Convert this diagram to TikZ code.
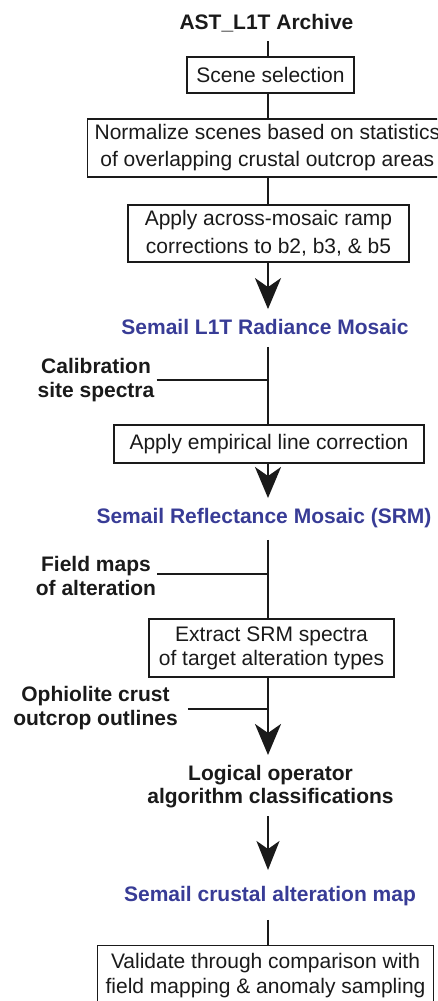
\documentclass[tikz,border=0pt]{standalone}
\usepackage{fontspec}
\setmainfont{Liberation Sans}
\usetikzlibrary{arrows.meta}

\definecolor{ink}{RGB}{26,26,26}
\definecolor{prodblue}{RGB}{56,60,150}

\tikzset{
  procbox/.style={draw=ink, line width=1.2pt, fill=white, text=ink,
    align=center, inner xsep=4pt, inner ysep=0pt,
    font=\fontsize{21}{26}\selectfont},
  srclabel/.style={font=\bfseries\fontsize{21}{24.5}\selectfont, text=ink,
    align=center, inner sep=0pt},
  product/.style={font=\bfseries\fontsize{21}{24}\selectfont, text=prodblue,
    inner sep=0pt},
  flow/.style={draw=ink, line width=2.6pt},
  flowarrow/.style={flow, -{Stealth[length=31pt,width=26pt,inset=9pt]}},
  feed/.style={draw=ink, line width=2.2pt},
}

\begin{document}
\begin{tikzpicture}[x=1pt, y=-1pt]
  \useasboundingbox (0,0) rectangle (437,1001);
  \clip (0,0) rectangle (437,1001);

  % main spine of the workflow
  \coordinate (spine) at (268,0);

  % inputs, steps and products
  \node[srclabel] (archive) at (266.5,23) {AST\_L1T Archive};
  \node[procbox, minimum width=167pt, minimum height=36pt] (select) at (270.5,75) {Scene selection};
  \node[procbox, anchor=west, inner xsep=7pt, minimum height=58pt,
        font=\fontsize{21}{27}\selectfont] (normalize) at (87,148)
        {Normalize scenes based on statistics\\of overlapping crustal outcrop areas};
  \node[procbox, minimum width=281pt, minimum height=57pt,
        font=\fontsize{21}{28}\selectfont] (ramp) at (268.5,233.5)
        {Apply across-mosaic ramp\\corrections to b2, b3, \& b5};
  \node[product] (radiance) at (265,327) {Semail L1T Radiance Mosaic};
  \node[srclabel] (calib) at (96,380) {Calibration\\site spectra};
  \node[procbox, minimum width=310pt, minimum height=38pt] (empirical) at (269,444)
        {Apply empirical line correction};
  \node[product] (srm) at (264,518) {Semail Reflectance Mosaic (SRM)};
  \node[srclabel] (fieldmaps) at (96,576) {Field maps\\of alteration};
  \node[procbox, minimum width=245pt, minimum height=58pt,
        font=\fontsize{21}{24}\selectfont] (extract) at (271.5,648)
        {Extract SRM spectra\\of target alteration types};
  \node[srclabel] (ophiolite) at (95.5,708) {Ophiolite crust\\outcrop outlines};
  \node[srclabel, font=\bfseries\fontsize{21}{23}\selectfont] (logical) at (270.5,786.5)
        {Logical operator\\algorithm classifications};
  \node[product] (altmap) at (270,896) {Semail crustal alteration map};
  \node[procbox, anchor=north west, inner xsep=8pt, minimum height=59pt,
        font=\fontsize{21}{25}\selectfont] (validate) at (97,945)
        {Validate through comparison with\\field mapping \& anomaly sampling};

  % connectors along the spine
  \draw[flow] ([yshift=-9pt]archive.south -| spine) -- (select.north -| spine);
  \draw[flow] (select.south -| spine) -- (normalize.north -| spine);
  \draw[flow] (normalize.south -| spine) -- (ramp.north -| spine);
  \draw[flowarrow] (ramp.south -| spine) -- ([yshift=10pt]radiance.north -| spine);
  \draw[flow] ([yshift=-12pt]radiance.south -| spine) -- (empirical.north -| spine);
  \draw[flowarrow] (empirical.south -| spine) -- ([yshift=10pt]srm.north -| spine);
  \draw[flow] ([yshift=-12pt]srm.south -| spine) -- (extract.north -| spine);
  \draw[flowarrow] (extract.south -| spine) -- ([yshift=10pt]logical.north -| spine);
  \draw[flow, -{Stealth[length=29pt,width=23pt,inset=8pt]}]
        ([yshift=-8pt]logical.south -| spine) -- ([yshift=16pt]altmap.north -| spine);
  \draw[flow] ([yshift=-14pt]altmap.south -| spine) -- (validate.north -| spine);

  % side inputs joining the spine
  \draw[feed] ([xshift=2pt]calib.east) -- (calib.east -| spine);
  \draw[feed] ([xshift=1pt,yshift=2pt]fieldmaps.east) -- ([yshift=2pt]fieldmaps.east -| spine);
  \draw[feed] ([xshift=10pt,yshift=-1pt]ophiolite.east) -- ([yshift=-1pt]ophiolite.east -| spine);
\end{tikzpicture}
\end{document}
